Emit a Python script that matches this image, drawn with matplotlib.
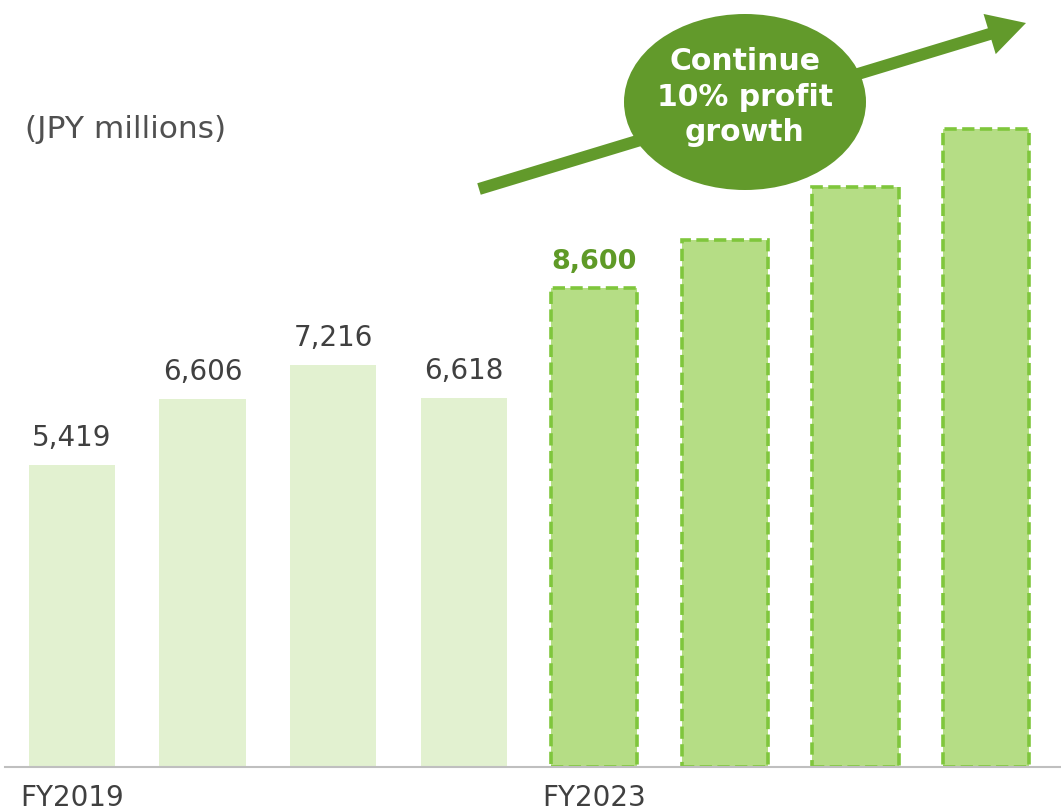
import numpy as np
import matplotlib.pyplot as plt
from matplotlib.patches import Ellipse, FancyArrow

# data
years = ["FY2019", "FY2020", "FY2021", "FY2022", "FY2023", "FY2024", "FY2025", "FY2026"]
profit = [5419, 6606, 7216, 6618, 8600, 9460, 10410, 11450]
labels = ["5,419", "6,606", "7,216", "6,618", "8,600", "", "", ""]
shown_ticks = ["FY2019", "", "", "", "FY2023", "", "", ""]
n_actual = 4

plt.rcParams['font.family'] = ['DejaVu Sans']
text_gray = "#404040"

fig = plt.figure(figsize=(10.61, 8.11), dpi=100)
ax = fig.add_axes([5 / 1061, 44 / 811, 1 - 5 / 1061, 767 / 811])

x = np.arange(len(years))
bw = 0.66

# actual results
ax.bar(x[:n_actual], profit[:n_actual], width=bw, color="#e2f1d0", edgecolor="none")
# plan
ax.bar(x[n_actual:], profit[n_actual:], width=bw, color="#b5dd85",
       edgecolor="#7fc63c", linewidth=2.6, linestyle=(0, (3.4, 1.5)))

for i, (v, t) in enumerate(zip(profit, labels)):
    if not t:
        continue
    if i == n_actual:
        ax.annotate(t, (x[i], v), xytext=(0, 14), textcoords="offset points",
                    ha="center", va="baseline", fontsize=19.5, fontweight="bold",
                    color="#5f9a27")
    else:
        ax.annotate(t, (x[i], v), xytext=(0, 14), textcoords="offset points",
                    ha="center", va="baseline", fontsize=20, color=text_gray)

ax.set_xlim(-0.513, 7.574)
ax.set_ylim(0, 767 / 0.0557)
ax.set_xticks(x)
ax.set_xticklabels(shown_ticks, fontsize=20, color=text_gray)
ax.tick_params(axis="x", length=0, pad=12)
ax.set_yticks([])
for s in ["top", "right", "left"]:
    ax.spines[s].set_visible(False)
ax.spines["bottom"].set_color("#bfbfbf")
ax.spines["bottom"].set_linewidth(1.5)

# overlay in pixel coordinates for the decorations
ov = fig.add_axes([0, 0, 1, 1])
ov.set_xlim(0, 1061)
ov.set_ylim(811, 0)
ov.axis("off")

ov.text(25, 129, "(JPY millions)", fontsize=22.5, color="#505050", ha="left", va="center")

ov.add_patch(FancyArrow(479, 189, 547, -166, width=12, head_width=42, head_length=38,
                        length_includes_head=True, color="#629a2b", linewidth=0))
ov.add_patch(Ellipse((745, 102), 242, 176, color="#629a2b", linewidth=0))
ov.text(745, 97, "Continue\n10% profit\ngrowth", fontsize=21.5, fontweight="bold",
        color="white", ha="center", va="center", linespacing=1.28)

fig.savefig("out.png", dpi=100)
